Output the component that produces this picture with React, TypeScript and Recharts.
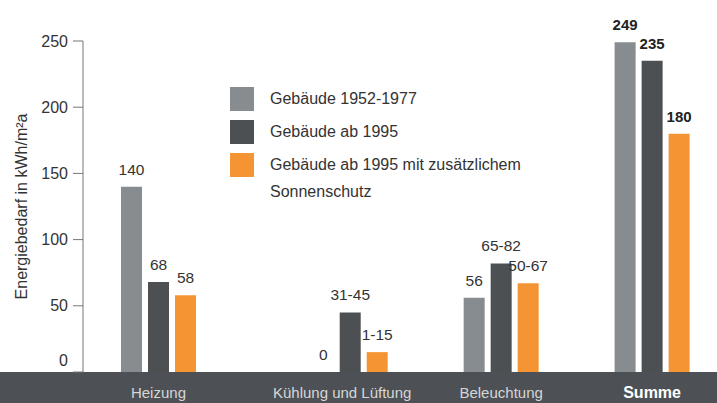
import { BarChart, Bar, XAxis, YAxis, Legend, LabelList, Label } from "recharts";

const categories = ["Heizung", "Kühlung und Lüftung", "Beleuchtung", "Summe"];
// place of each group on the numeric x axis (Heizung sits further left than the rest)
const slots = [0.73, 2, 3, 4];
const seriesNames = [
  "Gebäude 1952-1977",
  "Gebäude ab 1995",
  "Gebäude ab 1995 mit zusätzlichem Sonnenschutz",
];
const alt = [140, 0, 56, 249];
const neu = [68, 45, 82, 235];
const schutz = [58, 15, 67, 180];
const altLabels = ["140", "0", "56", "249"];
const neuLabels = ["68", "31-45", "65-82", "235"];
const schutzLabels = ["58", "1-15", "50-67", "180"];
const yTicks = [0, 50, 100, 150, 200, 250];

const FONT = '"Liberation Sans", Arial, sans-serif';
const GRAY = "#868c8f";
const DARK = "#4c5053";
const ORANGE = "#f59432";
const BAND = "#4d5155";
const TEXT = "#333333";

const rows = categories.map((c, i) => ({
  name: c,
  x: slots[i],
  alt: alt[i],
  neu: neu[i],
  schutz: schutz[i],
  altLabel: altLabels[i],
  neuLabel: neuLabels[i],
  schutzLabel: schutzLabels[i],
}));

function CategoryTick(props: any) {
  const { x, y, payload } = props;
  const idx = slots.indexOf(payload.value);
  const isSum = idx === categories.length - 1;
  // the long label is set a little left of its bars in the original
  const dx = idx === 1 ? -8 : 0;
  return (
    <text
      x={x + dx}
      y={y + 18}
      textAnchor="middle"
      fontFamily={FONT}
      fontSize={isSum ? 16 : 15}
      fontWeight={isSum ? "bold" : "normal"}
      fill={isSum ? "#ffffff" : "#d6d6d6"}
    >
      {categories[idx]}
    </text>
  );
}

function ValueTick(props: any) {
  const { x, y, payload } = props;
  return (
    <text
      x={x}
      y={payload.value === 0 ? y - 12 : y}
      dy="0.355em"
      textAnchor="end"
      fontFamily={FONT}
      fontSize={16}
      fill={TEXT}
    >
      {payload.value}
    </text>
  );
}

const barLabel = (labels: string[]) => (props: any) => {
  const { x, y, width, value } = props;
  const isSum = labels.indexOf(String(value)) === categories.length - 1;
  return (
    <text
      x={x + width / 2}
      y={y - 12}
      textAnchor="middle"
      fontFamily={FONT}
      fontSize={isSum ? 15 : 15.5}
      fontWeight={isSum ? "bold" : "normal"}
      fill={isSum ? "#222" : TEXT}
    >
      {value}
    </text>
  );
};

function LegendBox(props: any) {
  const items = props.payload || [];
  return (
    <div style={{ fontFamily: FONT, fontSize: 16, color: TEXT }}>
      {items.map((it: any) => (
        <div
          key={it.value}
          style={{ display: "flex", alignItems: "flex-start", marginBottom: 6 }}
        >
          <div
            style={{
              width: 24,
              height: 24,
              marginTop: 1.5,
              background: it.color,
              flex: "none",
            }}
          />
          <div
            style={{ marginLeft: 16, lineHeight: "27px", whiteSpace: "pre-line" }}
          >
            {String(it.value).replace(" Sonnenschutz", "\nSonnenschutz")}
          </div>
        </div>
      ))}
    </div>
  );
}

export default function App() {
  return (
    <div
      style={{
        position: "absolute",
        left: 0,
        top: 0,
        width: 717,
        height: 403,
        background: "#fff",
        overflow: "hidden",
      }}
    >
      <div
        style={{
          position: "absolute",
          left: 0,
          top: 372,
          width: 717,
          height: 31,
          background: BAND,
        }}
      />
      <div style={{ position: "absolute", left: 0, top: 0 }}>
        <BarChart
          width={717}
          height={403}
          data={rows}
          margin={{ top: 41, right: 0, bottom: 0, left: 0 }}
          barSize={21}
          barGap={6}
        >
          <XAxis
            type="number"
            dataKey="x"
            domain={[0.23, 4.43]}
            ticks={slots}
            interval={0}
            allowDataOverflow
            height={31}
            axisLine={false}
            tickLine={false}
            tick={<CategoryTick />}
          />
          <YAxis
            domain={[0, 250]}
            ticks={yTicks}
            width={83}
            interval={0}
            axisLine={{ stroke: "#777" }}
            tickLine={{ stroke: "#777" }}
            tickSize={10}
            tickMargin={5}
            tick={<ValueTick />}
          >
            <Label
              content={(p: any) => {
                const vb = p.viewBox;
                const cx = vb.x + 21;
                const cy = vb.y + vb.height / 2;
                return (
                  <text
                    x={cx}
                    y={cy}
                    transform={`rotate(-90 ${cx} ${cy})`}
                    textAnchor="middle"
                    dominantBaseline="central"
                    fontFamily={FONT}
                    fontSize={16}
                    fill={TEXT}
                  >
                    Energiebedarf in kWh/m²a
                  </text>
                );
              }}
            />
          </YAxis>
          <Legend
            layout="vertical"
            align="center"
            verticalAlign="middle"
            wrapperStyle={{ left: 230, top: 85, width: 340 }}
            content={<LegendBox />}
          />
          <Bar
            dataKey="alt"
            name={seriesNames[0]}
            fill={GRAY}
            minPointSize={0.01}
            isAnimationActive={false}
          >
            <LabelList dataKey="altLabel" content={barLabel(altLabels)} />
          </Bar>
          <Bar dataKey="neu" name={seriesNames[1]} fill={DARK} isAnimationActive={false}>
            <LabelList dataKey="neuLabel" content={barLabel(neuLabels)} />
          </Bar>
          <Bar dataKey="schutz" name={seriesNames[2]} fill={ORANGE} isAnimationActive={false}>
            <LabelList dataKey="schutzLabel" content={barLabel(schutzLabels)} />
          </Bar>
        </BarChart>
      </div>
    </div>
  );
}
